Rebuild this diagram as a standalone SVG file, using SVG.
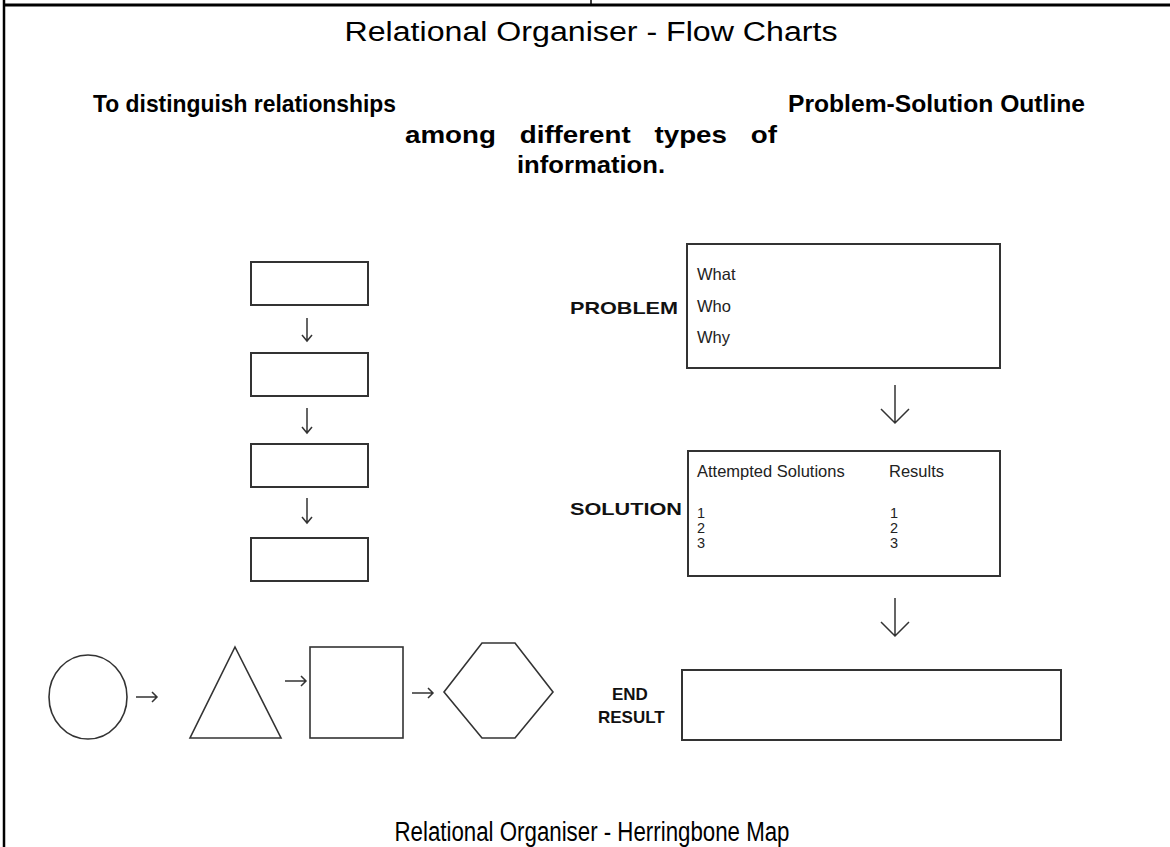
<svg xmlns="http://www.w3.org/2000/svg" width="1170" height="847" viewBox="0 0 1170 847">
<defs>
<style>
.title{font-family:"Liberation Sans",Arial,sans-serif;font-size:27px;fill:#000;text-anchor:middle}
.head{font-family:"Liberation Sans",Arial,sans-serif;font-size:24px;font-weight:bold;fill:#000}
.lab{font-family:"Liberation Sans",Arial,sans-serif;font-size:17px;font-weight:bold;fill:#111}
.sm{font-family:"Liberation Sans",Arial,sans-serif;font-size:16.5px;fill:#222}
.num{font-family:"Liberation Sans",Arial,sans-serif;font-size:14.5px;fill:#222}
.box{fill:#fff;stroke:#333;stroke-width:2}
.shape{fill:none;stroke:#333;stroke-width:1.6}
.arr{fill:none;stroke:#333;stroke-width:1.5}
</style>
</defs>
<rect width="1170" height="847" fill="#fff"/>
<g id="frame">
<line x1="4" y1="0" x2="4" y2="847" stroke="#000" stroke-width="2.5"/>
<line x1="4" y1="5" x2="1170" y2="5" stroke="#000" stroke-width="3"/>
<line x1="591" y1="0" x2="591" y2="5" stroke="#000" stroke-width="1.5"/>
</g>
<g id="titles">
<text class="title" x="591" y="41" textLength="493" lengthAdjust="spacingAndGlyphs">Relational Organiser  - Flow Charts</text>
<text class="head" x="93" y="112" textLength="303" lengthAdjust="spacingAndGlyphs">To distinguish relationships</text>
<text class="head" x="788" y="112" textLength="297" lengthAdjust="spacingAndGlyphs">Problem-Solution Outline</text>
<text class="head" x="405" y="143" font-size="25" textLength="372" lengthAdjust="spacingAndGlyphs" style="word-spacing:14px">among different types of</text>
<text class="head" x="517" y="173" textLength="148" lengthAdjust="spacingAndGlyphs">information.</text>
<text class="title" x="592" y="841" font-size="26" textLength="395" lengthAdjust="spacingAndGlyphs">Relational Organiser - Herringbone Map</text>
</g>
<g id="flow-box-1"><rect class="box" x="251" y="262" width="117" height="43"/></g>
<g id="flow-box-2"><rect class="box" x="251" y="353" width="117" height="43"/></g>
<g id="flow-box-3"><rect class="box" x="251" y="444" width="117" height="43"/></g>
<g id="flow-box-4"><rect class="box" x="251" y="538" width="117" height="43"/></g>
<g id="ellipse"><ellipse class="shape" cx="88" cy="697" rx="39" ry="42"/></g>
<g id="triangle"><polygon class="shape" points="235,647 281,738 190,738"/></g>
<g id="square"><rect class="shape" x="310" y="647" width="93" height="91"/></g>
<g id="hexagon"><polygon class="shape" points="444,692 482,643 515,643 553,692 515,738 482,738"/></g>
<g id="problem">
<rect class="box" x="687" y="244" width="313" height="124"/>
<text class="lab" x="570" y="314" textLength="108" lengthAdjust="spacingAndGlyphs">PROBLEM</text>
<text class="sm" x="697" y="280">What</text>
<text class="sm" x="697" y="312">Who</text>
<text class="sm" x="697" y="343">Why</text>
</g>
<g id="solution">
<rect class="box" x="688" y="451" width="312" height="125"/>
<text class="lab" x="570" y="515" textLength="112" lengthAdjust="spacingAndGlyphs">SOLUTION</text>
<text class="sm" x="697" y="477">Attempted Solutions</text>
<text class="sm" x="889" y="477">Results</text>
<text class="num" x="697" y="518">1</text>
<text class="num" x="697" y="533">2</text>
<text class="num" x="697" y="548">3</text>
<text class="num" x="890" y="518">1</text>
<text class="num" x="890" y="533">2</text>
<text class="num" x="890" y="548">3</text>
</g>
<g id="end-result">
<rect class="box" x="682" y="670" width="379" height="70"/>
<text class="lab" x="612" y="700">END</text>
<text class="lab" x="598" y="723">RESULT</text>
</g>
<g id="connectors">
<path class="arr" d="M307 318V341M302 335L307 341L312 335"/>
<path class="arr" d="M307 408V433M302 427L307 433L312 427"/>
<path class="arr" d="M307 498V523M302 517L307 523L312 517"/>
<path class="arr" d="M895 385V423M881 409L895 423L909 409"/>
<path class="arr" d="M895 598V636M881 622L895 636L909 622"/>
<path class="arr" d="M136 697H157M152 692L157 697L152 702"/>
<path class="arr" d="M285 681H306M301 676L306 681L301 686"/>
<path class="arr" d="M412 693H433M428 688L433 693L428 698"/>
</g>
</svg>
